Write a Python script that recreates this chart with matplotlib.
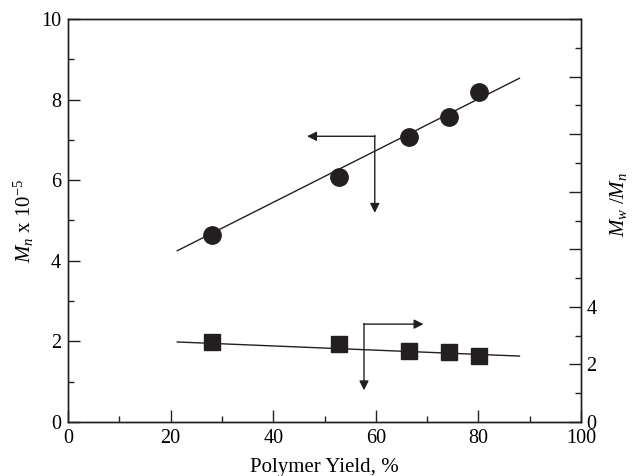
import matplotlib
matplotlib.use("Agg")
import matplotlib.pyplot as plt
from matplotlib.ticker import MultipleLocator, FuncFormatter

plt.rcParams['font.family'] = ['Liberation Serif', 'DejaVu Serif']
plt.rcParams['mathtext.fontset'] = 'custom'
plt.rcParams['mathtext.rm'] = 'Liberation Serif'
plt.rcParams['mathtext.it'] = 'Liberation Serif:italic'

# Data
yield_pct = [28.1, 52.9, 66.5, 74.3, 80.2]
mn = [4.64, 6.09, 7.06, 7.56, 8.18]          # Mn x 1e-5 (left axis)
mw_mn = [2.79, 2.71, 2.46, 2.42, 2.29]       # Mw/Mn (right axis)

mn_fit_x = [21.3, 88.0]
mn_fit_y = [4.25, 8.53]
pdi_fit_x = [21.3, 88.0]
pdi_fit_y = [2.78, 2.29]

ink = '#231f20'

fig = plt.figure(figsize=(6.36, 4.76), dpi=100)
ax = fig.add_axes([68/636, 54/476, (581-68)/636, (422-19)/476])
ax2 = ax.twinx()

ax.plot(mn_fit_x, mn_fit_y, color=ink, lw=1.0)
ax.plot(yield_pct, mn, 'o', color=ink, ms=12.5, mec=ink)

ax2.plot(pdi_fit_x, pdi_fit_y, color=ink, lw=1.0)
ax2.plot(yield_pct, mw_mn, 's', color=ink, ms=11, mec=ink)

# Arrows
ax.annotate('', xy=(59.8, 5.19), xytext=(59.8, 7.11),
            arrowprops=dict(arrowstyle='-|>', color=ink, lw=1.0, mutation_scale=14,
                            shrinkA=0, shrinkB=0))
ax.annotate('', xy=(46.6, 7.09), xytext=(59.85, 7.09),
            arrowprops=dict(arrowstyle='-|>', color=ink, lw=1.0, mutation_scale=14,
                            shrinkA=0, shrinkB=0))
ax2.annotate('', xy=(57.7, 1.10), xytext=(57.7, 3.42),
             arrowprops=dict(arrowstyle='-|>', color=ink, lw=1.0, mutation_scale=14,
                             shrinkA=0, shrinkB=0))
ax2.annotate('', xy=(69.3, 3.40), xytext=(57.65, 3.40),
             arrowprops=dict(arrowstyle='-|>', color=ink, lw=1.0, mutation_scale=14,
                             shrinkA=0, shrinkB=0))

ax.set_xlim(0, 100)
ax.set_ylim(0, 10)
ax2.set_ylim(0, 14)

ax.xaxis.set_major_locator(MultipleLocator(20))
ax.xaxis.set_minor_locator(MultipleLocator(10))
ax.yaxis.set_major_locator(MultipleLocator(2))
ax.yaxis.set_minor_locator(MultipleLocator(1))
ax2.yaxis.set_major_locator(MultipleLocator(2))
ax2.yaxis.set_minor_locator(MultipleLocator(1))
ax2.yaxis.set_major_formatter(FuncFormatter(lambda v, p: f"{int(v)}" if v <= 4.01 else ""))

for a in (ax, ax2):
    a.tick_params(which='major', direction='in', length=8.5, width=1.0, labelsize=14.5,
                  colors=ink, labelcolor='black')
    a.tick_params(which='minor', direction='in', length=4.3, width=1.0, colors=ink)
    for s in a.spines.values():
        s.set_linewidth(1.0)
        s.set_color(ink)
ax.tick_params(axis='x', which='both', top=False)
ax.tick_params(axis='x', pad=5)
ax.tick_params(axis='y', pad=5)
ax2.tick_params(axis='y', pad=4)

ax.set_xlabel('Polymer Yield, %', fontsize=15, labelpad=7)
ax.set_ylabel('$M_n$ x 10$^{-5}$', fontsize=15)
ax.yaxis.set_label_coords(-0.062, 0.5)
ax2.set_ylabel('$M_w$ /$M_n$', fontsize=15)
ax2.yaxis.set_label_coords(1.053, 0.54)

fig.savefig('out.png', dpi=100)
